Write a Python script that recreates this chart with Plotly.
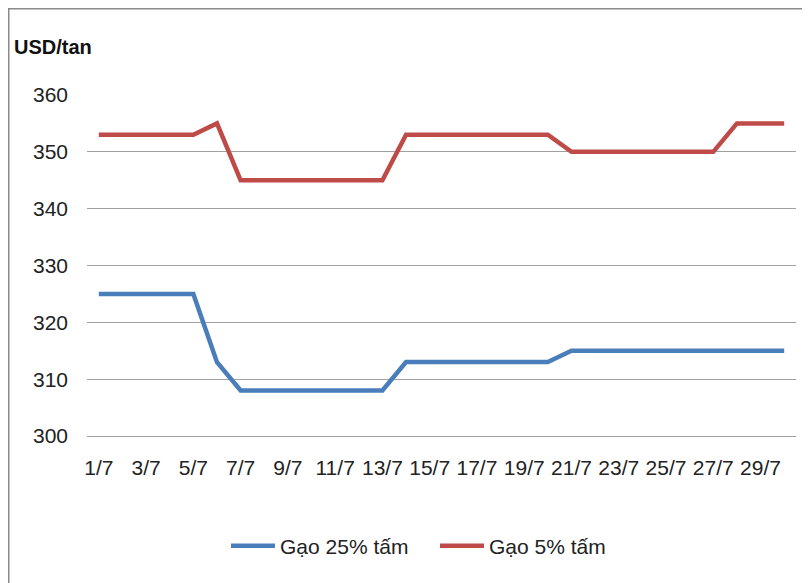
import plotly.graph_objects as go

dates = [f"{d}/7" for d in range(1, 31)]
gao_25 = [325, 325, 325, 325, 325, 313, 308, 308, 308, 308, 308, 308, 308, 313, 313,
          313, 313, 313, 313, 313, 315, 315, 315, 315, 315, 315, 315, 315, 315, 315]
gao_5 = [353, 353, 353, 353, 353, 355, 345, 345, 345, 345, 345, 345, 345, 353, 353,
         353, 353, 353, 353, 353, 350, 350, 350, 350, 350, 350, 350, 355, 355, 355]
tick_labels = dates[::2]
y_ticks = [300, 310, 320, 330, 340, 350, 360]

FONT = "Liberation Sans, Arial, sans-serif"

fig = go.Figure()
fig.add_trace(go.Scatter(x=dates, y=gao_25, mode="lines", name="Gạo 25% tấm",
                         line=dict(color="#4A7EBB", width=4.5)))
fig.add_trace(go.Scatter(x=dates, y=gao_5, mode="lines", name="Gạo 5% tấm",
                         line=dict(color="#BE4B48", width=4.5)))

OFF = 8  # page body margin
W, H = 810 - OFF, 583 - OFF
L, T = 87 - OFF, 95 - OFF
R = W - (796 - OFF)
B = H - (436 - OFF)
pw, ph = W - L - R, H - T - B

def px_x(px):
    return (px - OFF - L) / pw

def px_y(py):
    return (H - B - (py - OFF)) / ph

fig.update_layout(
    width=W, height=H,
    margin=dict(l=L, r=R, t=T, b=B, autoexpand=False),
    paper_bgcolor="white", plot_bgcolor="white",
    font=dict(family=FONT, size=21, color="#222"),
    showlegend=True,
    legend=dict(orientation="h", x=px_x(226), xanchor="left",
                y=px_y(546), yanchor="middle", font=dict(size=21),
                itemwidth=44, entrywidth=150, bgcolor="rgba(0,0,0,0)"),
    xaxis=dict(type="category", range=[-0.5, 29.5], showgrid=False,
               tickmode="array", tickvals=tick_labels, ticktext=tick_labels,
               ticks="", showline=True, linecolor="#A0A0A0", linewidth=1,
               ticklabelstandoff=13, tickfont=dict(size=21, color="#222")),
    yaxis=dict(range=[300, 360], tickvals=y_ticks, showgrid=True,
               gridcolor="#A0A0A0", gridwidth=1, zeroline=False, showline=False,
               ticks="", ticklabelstandoff=18, tickfont=dict(size=21, color="#222")),
    annotations=[dict(text="<b>USD/tan</b>", xref="paper", yref="paper",
                      x=px_x(12), y=px_y(47), xanchor="left", yanchor="middle",
                      showarrow=False, font=dict(size=20, color="#111"))],
    shapes=[
        dict(type="line", xref="paper", yref="paper", x0=px_x(7), x1=px_x(815),
             y0=px_y(8.5), y1=px_y(8.5), line=dict(color="#8A8A8A", width=2)),
        dict(type="line", xref="paper", yref="paper", x0=px_x(8.5), x1=px_x(8.5),
             y0=px_y(8), y1=px_y(590), line=dict(color="#8A8A8A", width=2)),
    ],
)

fig.write_html("out.html")
